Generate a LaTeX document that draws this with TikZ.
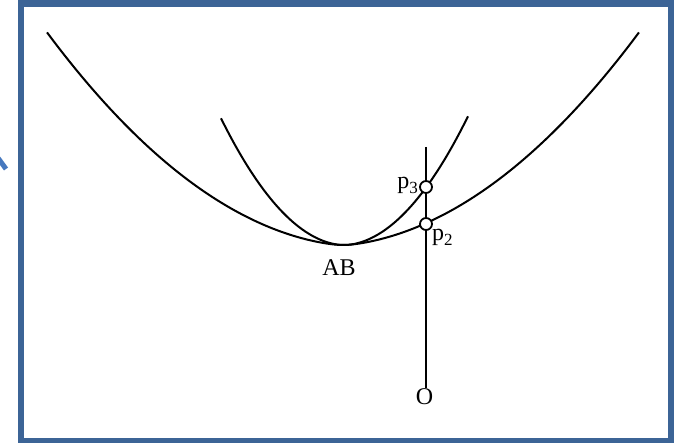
\documentclass[tikz,border=0pt]{standalone}
\usepackage{fontspec}
\setmainfont{Liberation Serif}
\usetikzlibrary{positioning}
\definecolor{frameblue}{RGB}{60,100,150}
\definecolor{tickblue}{RGB}{70,120,190}
\newcommand{\subidx}[1]{\raisebox{-5pt}{\fontsize{17}{17}\selectfont #1}}

\begin{document}
\begin{tikzpicture}[x=1pt,y=-1pt,
			curve/.style={line width=2pt,line join=round},
			point/.style={circle,draw,fill=white,line width=1.8pt,inner sep=0pt,minimum size=12pt},
			lbl/.style={font=\fontsize{24}{28}\selectfont,inner sep=1pt}]
			
			\useasboundingbox (0,0) rectangle (677,443);
			
			% Frame and the blue mark on its left
			\draw[frameblue,line width=6.5pt] (21,3.5) rectangle (671,441.5);
			\draw[tickblue,line width=5pt] (-2,158) -- (6,169);
			
			% Wide curve (x in hundreds of pt from the bottom point)
			\draw[curve] plot[domain=-2.96:2.96,samples=120,smooth]
				({343+100*\x},{245-21*\x*\x-10*sqrt(\x*\x+0.01)+1});
			
			% Narrow curve
			\draw[curve] plot[domain=-1.23:1.24,samples=80,smooth]
				({344+100*\x},{245-80*\x*\x-5*sqrt(\x*\x+0.01)+0.5});
			
			% Vertical line with the two points
			\coordinate (top) at (426,147);
			\node[lbl] (O) at (424.5,397) {O};
			\draw[curve,line width=2.2pt] (top) -- (top |- O.north);
			\node[point] (p3) at (426,187) {};
			\node[point] (p2) at (426,224) {};
			
			% Labels
			\node[lbl,left=0pt of p3,yshift=2pt] (lp3) {p\subidx{3}};
			\node[lbl,below right=-1pt and 0pt of p2] (lp2) {p\subidx{2}};
			\node[lbl] (AB) at (339,268) {AB};
			
		\end{tikzpicture}
\end{document}
